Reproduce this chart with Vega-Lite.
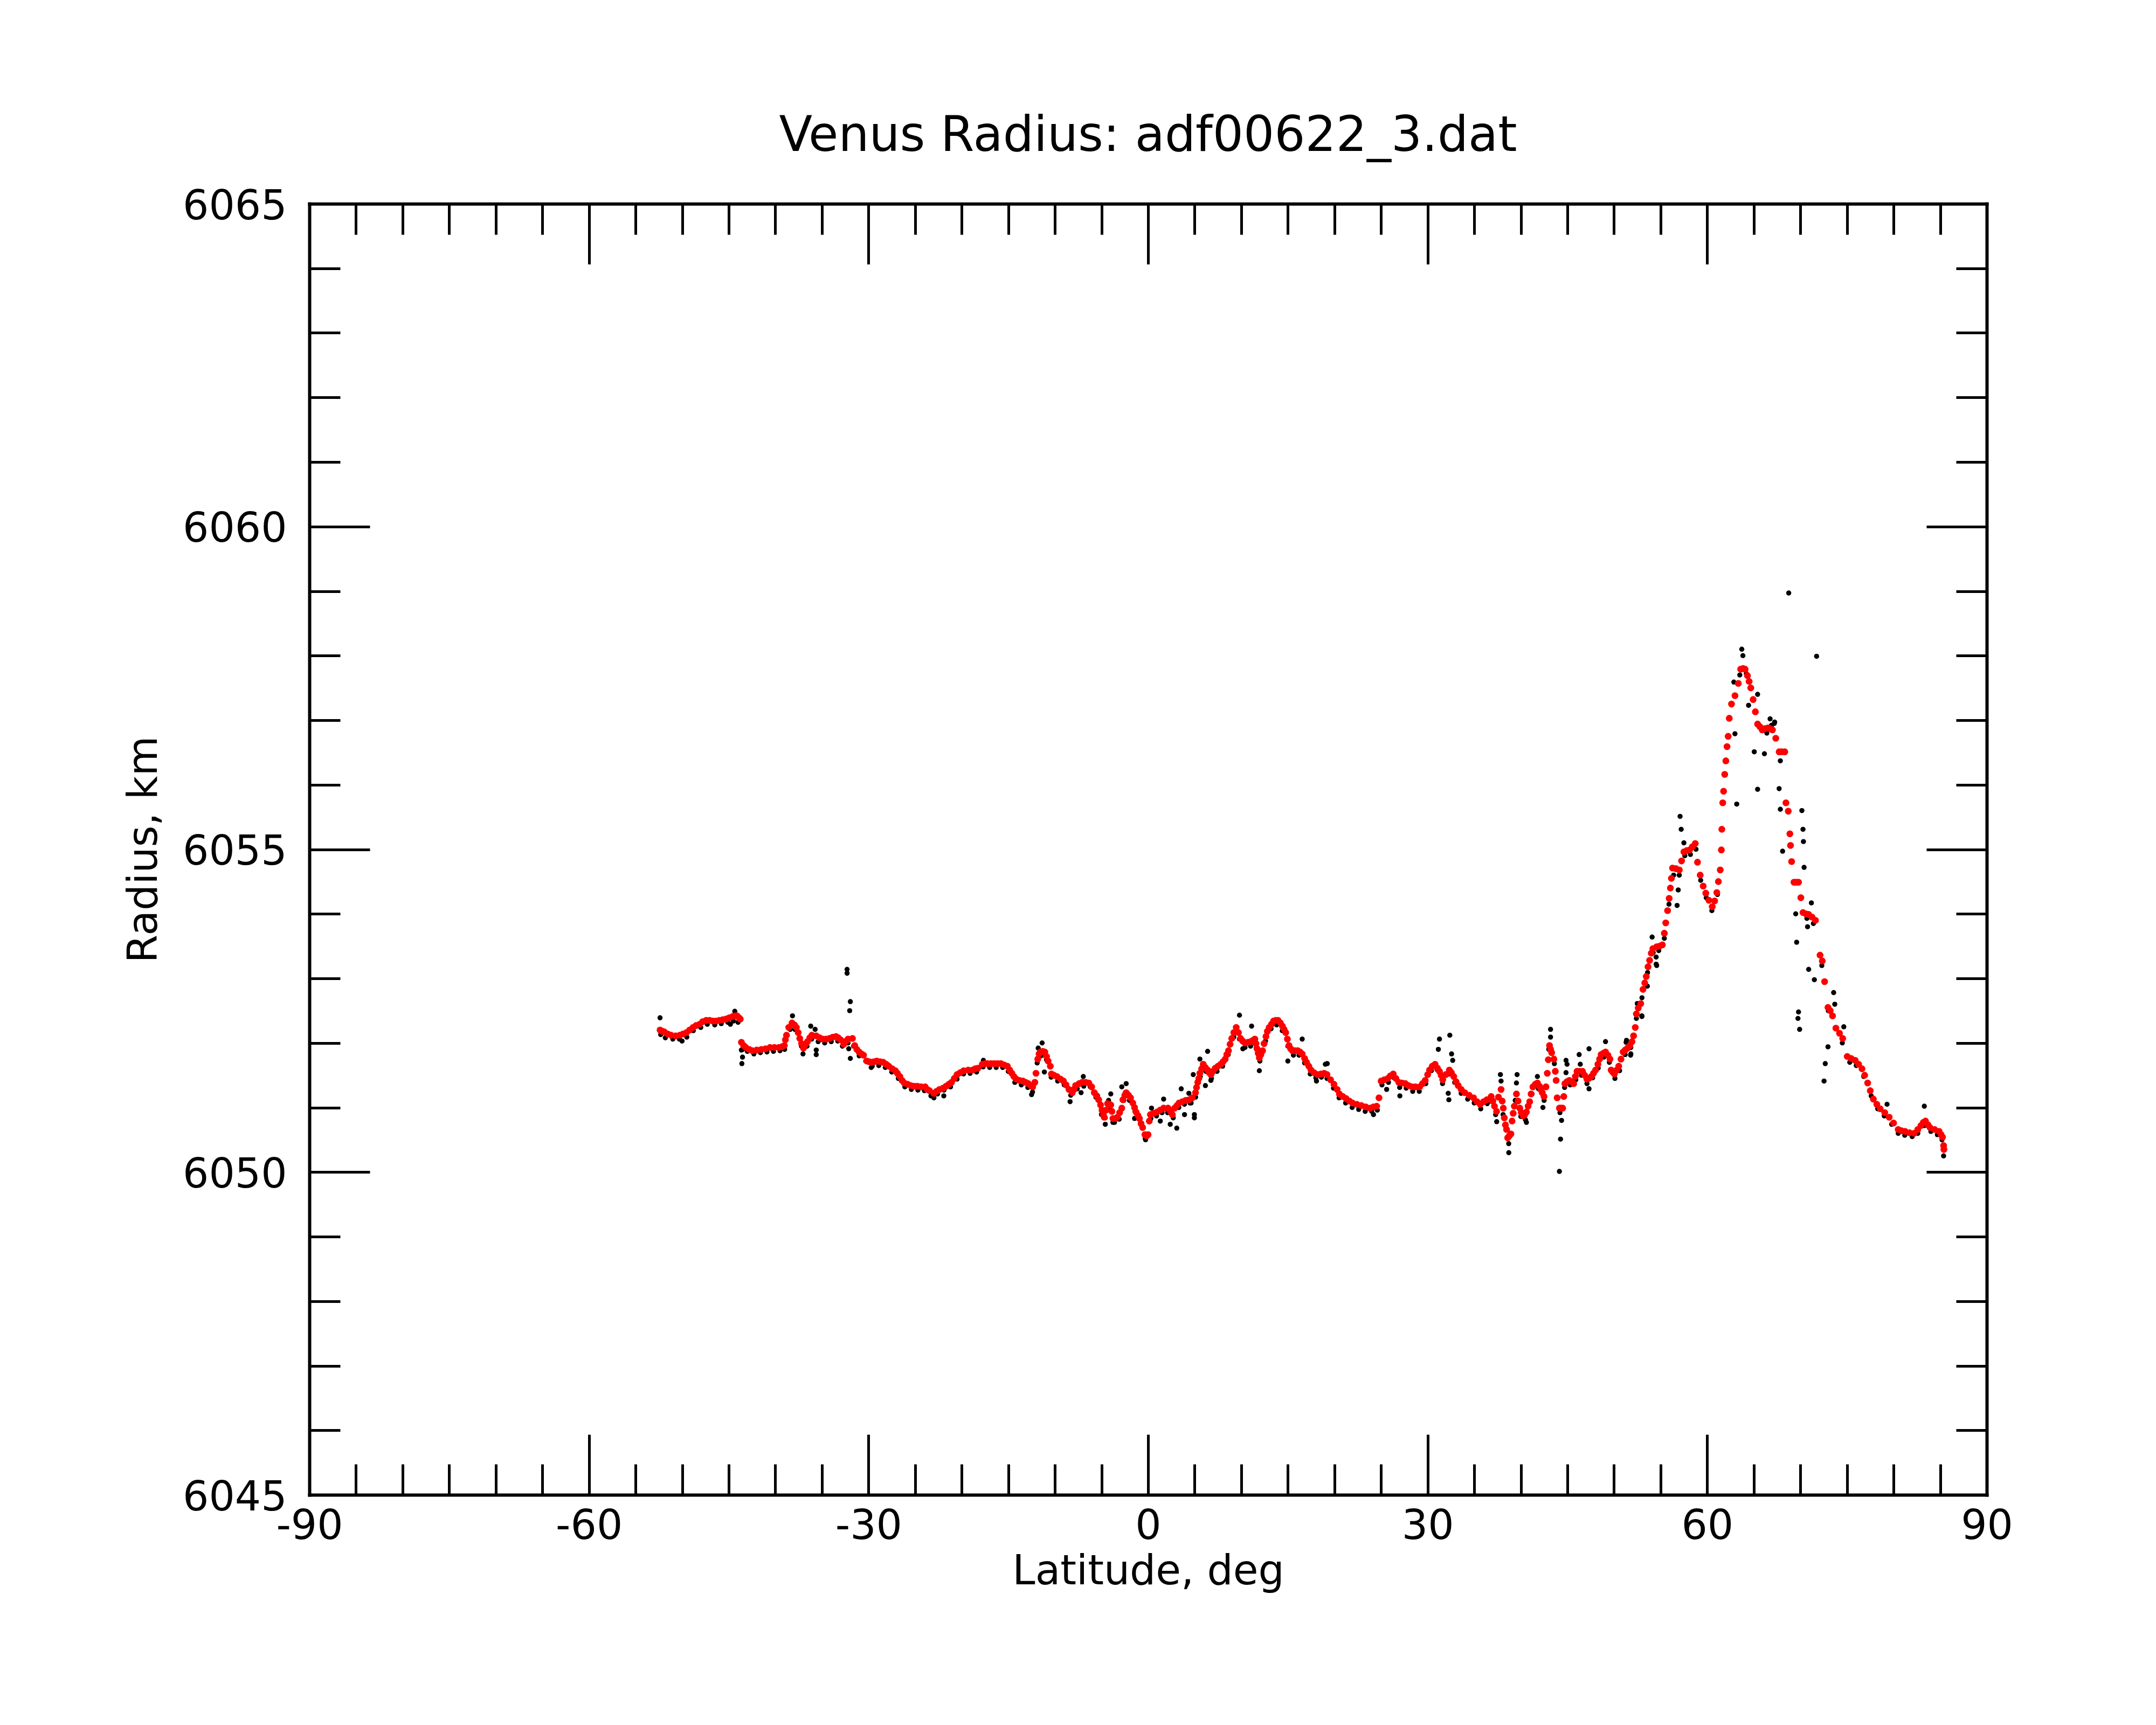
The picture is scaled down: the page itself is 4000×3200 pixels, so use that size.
{
"$schema":"https://vega.github.io/schema/vega-lite/v6.json",
"width":3112,"height":2395,
"autosize":{"type":"none"},
"padding":{"left":574,"top":378,"right":314,"bottom":427},
"background":"white",
"config":{"view":{"stroke":null},"font":"DejaVu Sans",
"axis":{"labelFont":"DejaVu Sans","titleFont":"DejaVu Sans","labelColor":"black","titleColor":"black","tickColor":"black","domainColor":"black","titleFontWeight":"normal","grid":false,"domainCap":"square","tickCap":"butt","labelLimit":1000}},
"title":{"text":"Venus Radius: adf00622_3.dat","fontSize":90,"font":"DejaVu Sans","fontWeight":"normal","color":"black","anchor":"middle","frame":"group","baseline":"alphabetic","offset":-25},
"datasets":{
"raw":[
{"lat":-52.3,"r":6052.13},{"lat":-51.8,"r":6052.08},{"lat":-51.0,"r":6052.06},{"lat":-50.3,"r":6052.06},{"lat":-49.5,"r":6052.09},{"lat":-48.8,"r":6052.19},{"lat":-48.0,"r":6052.24},{"lat":-47.3,"r":6052.29},{"lat":-46.5,"r":6052.28},{"lat":-45.8,"r":6052.3},{"lat":-45.1,"r":6052.32},{"lat":-44.5,"r":6052.34},{"lat":-44.0,"r":6052.32},
{"lat":-43.5,"r":6051.9},{"lat":-43.0,"r":6051.87},{"lat":-42.3,"r":6051.83},{"lat":-41.6,"r":6051.85},{"lat":-40.9,"r":6051.86},{"lat":-40.2,"r":6051.87},{"lat":-39.5,"r":6051.88},{"lat":-39.0,"r":6051.9},{"lat":-38.4,"r":6052.21},{"lat":-37.9,"r":6052.21},{"lat":-37.2,"r":6051.95},{"lat":-36.6,"r":6051.95},{"lat":-36.1,"r":6052.06},{"lat":-35.4,"r":6052.02},{"lat":-34.7,"r":6052.0},{"lat":-34.0,"r":6052.02},{"lat":-33.3,"r":6052.03},{"lat":-32.8,"r":6051.95},{"lat":-32.2,"r":6052.0},{"lat":-31.6,"r":6051.95},{"lat":-31.0,"r":6051.8},{"lat":-30.3,"r":6051.72},{"lat":-29.6,"r":6051.64},{"lat":-28.9,"r":6051.65},{"lat":-28.2,"r":6051.62},{"lat":-27.5,"r":6051.55},{"lat":-26.8,"r":6051.45},{"lat":-26.1,"r":6051.32},{"lat":-25.4,"r":6051.28},{"lat":-24.7,"r":6051.27},{"lat":-24.0,"r":6051.26},{"lat":-23.3,"r":6051.18},{"lat":-22.6,"r":6051.21},{"lat":-21.9,"r":6051.27},{"lat":-21.2,"r":6051.32},{"lat":-20.5,"r":6051.44},{"lat":-19.8,"r":6051.52},{"lat":-19.1,"r":6051.53},{"lat":-18.4,"r":6051.55},{"lat":-17.7,"r":6051.63},{"lat":-17.0,"r":6051.62},{"lat":-16.3,"r":6051.62},{"lat":-15.6,"r":6051.62},{"lat":-15.0,"r":6051.56},{"lat":-14.3,"r":6051.39},{"lat":-13.6,"r":6051.35},{"lat":-12.9,"r":6051.31},{"lat":-12.4,"r":6051.24},{"lat":-11.9,"r":6051.69},{"lat":-11.5,"r":6051.8},{"lat":-10.9,"r":6051.74},{"lat":-10.4,"r":6051.47},{"lat":-9.7,"r":6051.41},{"lat":-9.0,"r":6051.35},{"lat":-8.3,"r":6051.19},{"lat":-7.6,"r":6051.29},{"lat":-6.9,"r":6051.33},{"lat":-6.2,"r":6051.32},{"lat":-5.6,"r":6051.16},{"lat":-5.0,"r":6050.89},{"lat":-4.6,"r":6050.84},{"lat":-4.1,"r":6050.97},{"lat":-3.6,"r":6050.77},{"lat":-3.1,"r":6050.82},{"lat":-2.6,"r":6051.11},{"lat":-2.0,"r":6051.11},{"lat":-1.4,"r":6050.94},{"lat":-0.8,"r":6050.76},{"lat":-0.3,"r":6050.52},{"lat":0.3,"r":6050.83},{"lat":0.9,"r":6050.87},{"lat":1.5,"r":6050.92},{"lat":2.1,"r":6050.92},{"lat":2.7,"r":6050.84},{"lat":3.3,"r":6051.0},{"lat":3.9,"r":6051.05},{"lat":4.5,"r":6051.07},{"lat":5.1,"r":6051.16},{"lat":5.6,"r":6051.48},{"lat":6.2,"r":6051.56},{"lat":6.8,"r":6051.45},{"lat":7.4,"r":6051.56},{"lat":8.0,"r":6051.64},{"lat":8.6,"r":6051.82},{"lat":9.2,"r":6052.09},{"lat":9.8,"r":6052.06},{"lat":10.4,"r":6051.93},{"lat":11.0,"r":6051.95},{"lat":11.6,"r":6051.92},{"lat":12.0,"r":6051.72},{"lat":12.6,"r":6052.03},{"lat":13.2,"r":6052.22},{"lat":13.8,"r":6052.28},{"lat":14.4,"r":6052.19},{"lat":15.0,"r":6051.95},{"lat":15.6,"r":6051.81},{"lat":16.2,"r":6051.81},{"lat":16.8,"r":6051.69},{"lat":17.4,"r":6051.52},{"lat":18.0,"r":6051.46},{"lat":18.6,"r":6051.47},{"lat":19.2,"r":6051.45},{"lat":19.9,"r":6051.3},{"lat":20.5,"r":6051.15},{"lat":21.2,"r":6051.07},{"lat":21.9,"r":6051.0},{"lat":22.6,"r":6050.97},{"lat":23.3,"r":6050.94},{"lat":24.0,"r":6050.94},{"lat":24.6,"r":6050.96},{"lat":25.1,"r":6051.35},{"lat":25.8,"r":6051.39},{"lat":26.4,"r":6051.46},{"lat":27.0,"r":6051.31},{"lat":27.7,"r":6051.3},{"lat":28.4,"r":6051.25},{"lat":29.1,"r":6051.25},{"lat":29.8,"r":6051.37},{"lat":30.4,"r":6051.57},{"lat":31.0,"r":6051.59},{"lat":31.6,"r":6051.37},{"lat":32.3,"r":6051.52},{"lat":32.9,"r":6051.39},{"lat":33.6,"r":6051.22},{"lat":34.3,"r":6051.13},{"lat":35.0,"r":6051.07},{"lat":35.7,"r":6050.98},{"lat":36.4,"r":6051.06},{"lat":36.9,"r":6051.09},{"lat":37.3,"r":6050.89},{"lat":38.1,"r":6050.89},{"lat":38.7,"r":6050.44},{"lat":39.4,"r":6051.11},{"lat":40.0,"r":6050.86},{"lat":40.5,"r":6050.81},{"lat":41.2,"r":6051.21},{"lat":41.9,"r":6051.29},{"lat":42.5,"r":6051.11},{"lat":43.0,"r":6051.9},{"lat":43.6,"r":6051.68},{"lat":44.2,"r":6050.92},{"lat":44.7,"r":6051.31},{"lat":45.3,"r":6051.35},{"lat":45.9,"r":6051.43},{"lat":46.5,"r":6051.5},{"lat":47.1,"r":6051.37},{"lat":47.7,"r":6051.46},{"lat":48.3,"r":6051.61},{"lat":48.9,"r":6051.78},{"lat":49.5,"r":6051.7},{"lat":50.1,"r":6051.45},{"lat":50.6,"r":6051.57},{"lat":51.2,"r":6051.82},{"lat":51.8,"r":6051.93},{"lat":52.4,"r":6052.38},{"lat":53.0,"r":6052.7},{"lat":53.6,"r":6053.09},{"lat":54.2,"r":6053.4},{"lat":54.8,"r":6053.43},{"lat":55.4,"r":6053.62},{"lat":55.9,"r":6054.15},{"lat":56.4,"r":6054.6},{"lat":57.0,"r":6054.6},{"lat":57.6,"r":6054.9},{"lat":58.2,"r":6054.92},{"lat":58.8,"r":6055.0},{"lat":59.3,"r":6054.52},{"lat":59.9,"r":6054.25},{"lat":60.5,"r":6054.05},{"lat":61.1,"r":6054.3},{"lat":63.5,"r":6057.7},{"lat":64.2,"r":6057.72},{"lat":66.4,"r":6056.8},{"lat":66.9,"r":6056.92},{"lat":67.2,"r":6056.95},{"lat":70.7,"r":6053.93},{"lat":71.4,"r":6053.85},{"lat":72.3,"r":6053.2},{"lat":73.0,"r":6052.5},{"lat":74.5,"r":6052.0},{"lat":75.3,"r":6051.7},{"lat":76.0,"r":6051.65},{"lat":76.8,"r":6051.48},{"lat":77.6,"r":6051.18},{"lat":78.3,"r":6050.98},{"lat":79.0,"r":6050.87},{"lat":79.8,"r":6050.74},{"lat":80.5,"r":6050.6},{"lat":81.2,"r":6050.57},{"lat":82.0,"r":6050.55},{"lat":82.6,"r":6050.6},{"lat":83.3,"r":6050.72},{"lat":84.0,"r":6050.63},{"lat":84.7,"r":6050.58},{"lat":85.2,"r":6050.5},{"lat":85.37,"r":6050.25},
{"lat":-52.37,"r":6052.39},{"lat":-50.01,"r":6052.03},{"lat":-43.64,"r":6051.89},{"lat":-43.52,"r":6051.78},{"lat":-43.59,"r":6051.68},{"lat":-44.35,"r":6052.49},{"lat":-44.82,"r":6052.29},{"lat":-38.16,"r":6052.42},{"lat":-37.03,"r":6051.83},{"lat":-36.2,"r":6052.26},{"lat":-35.73,"r":6052.21},{"lat":-35.61,"r":6051.89},{"lat":-35.61,"r":6051.82},{"lat":-32.3,"r":6053.14},{"lat":-32.3,"r":6053.08},{"lat":-31.95,"r":6052.64},{"lat":-32.02,"r":6052.5},{"lat":-32.12,"r":6051.91},{"lat":-31.95,"r":6051.76},{"lat":-21.92,"r":6051.18},{"lat":-22.98,"r":6051.15},{"lat":-29.71,"r":6051.62},{"lat":-17.67,"r":6051.73},
{"lat":-11.37,"r":6052.0},{"lat":-11.79,"r":6051.92},{"lat":-11.13,"r":6051.55},{"lat":-12.5,"r":6051.2},{"lat":-6.95,"r":6051.48},{"lat":-8.37,"r":6051.09},{"lat":-7.19,"r":6051.23},{"lat":-4.0,"r":6051.21},{"lat":-4.24,"r":6051.11},{"lat":-4.59,"r":6050.74},{"lat":-3.77,"r":6050.77},{"lat":-2.35,"r":6051.37},{"lat":-2.82,"r":6051.32},{"lat":-1.45,"r":6050.83},{"lat":-0.27,"r":6050.5},{"lat":0.37,"r":6050.99},{"lat":1.67,"r":6051.13},{"lat":1.31,"r":6050.79},{"lat":2.38,"r":6050.74},{"lat":3.08,"r":6050.68},{"lat":3.91,"r":6050.89},{"lat":4.97,"r":6050.84},{"lat":4.97,"r":6050.89},{"lat":3.56,"r":6051.29},{"lat":4.38,"r":6051.22},{"lat":4.62,"r":6051.07},{"lat":4.85,"r":6051.51},{"lat":6.15,"r":6051.34},{"lat":6.39,"r":6051.87},{"lat":5.56,"r":6051.75},{"lat":6.74,"r":6051.42},{"lat":9.81,"r":6052.43},{"lat":10.17,"r":6051.91},{"lat":11.11,"r":6052.26},{"lat":11.94,"r":6051.57},{"lat":15.0,"r":6051.72},{"lat":16.54,"r":6052.06},{"lat":18.07,"r":6051.41},{"lat":19.02,"r":6051.67},
{"lat":19.23,"r":6051.68},{"lat":24.19,"r":6050.89},{"lat":31.27,"r":6052.06},{"lat":32.38,"r":6052.12},{"lat":31.15,"r":6051.9},{"lat":32.57,"r":6051.83},{"lat":32.69,"r":6051.73},{"lat":32.21,"r":6051.22},{"lat":32.28,"r":6051.12},{"lat":27.02,"r":6051.18},{"lat":25.6,"r":6051.28},{"lat":37.81,"r":6051.51},{"lat":37.88,"r":6051.41},{"lat":37.41,"r":6050.78},{"lat":38.71,"r":6050.3},{"lat":39.6,"r":6051.51},{"lat":39.53,"r":6051.38},{"lat":40.6,"r":6050.77},{"lat":41.78,"r":6051.48},{"lat":42.37,"r":6051.0},{"lat":43.19,"r":6052.21},{"lat":43.19,"r":6052.09},{"lat":44.37,"r":6050.8},{"lat":44.26,"r":6050.51},{"lat":44.14,"r":6050.01},{"lat":44.85,"r":6051.73},{"lat":44.96,"r":6051.67},{"lat":44.85,"r":6051.54},{"lat":46.26,"r":6051.82},{"lat":46.38,"r":6051.67},{"lat":47.32,"r":6051.91},{"lat":47.32,"r":6051.29},{"lat":49.09,"r":6052.02},{"lat":51.34,"r":6052.04},{"lat":51.81,"r":6051.83},{"lat":52.52,"r":6052.61},{"lat":52.99,"r":6052.41},{"lat":53.58,"r":6052.88},{"lat":54.52,"r":6053.22},{"lat":54.52,"r":6053.33},
{"lat":68.75,"r":6058.97},{"lat":71.74,"r":6057.99},{"lat":63.71,"r":6058.1},{"lat":63.83,"r":6058.0},{"lat":62.86,"r":6057.59},{"lat":64.44,"r":6057.23},{"lat":65.41,"r":6057.4},{"lat":62.98,"r":6056.79},{"lat":65.05,"r":6056.51},{"lat":66.14,"r":6056.48},{"lat":65.41,"r":6055.93},{"lat":63.17,"r":6055.7},{"lat":67.72,"r":6055.94},{"lat":67.85,"r":6055.62},{"lat":70.16,"r":6055.6},{"lat":70.28,"r":6055.31},{"lat":70.33,"r":6055.12},{"lat":70.4,"r":6054.72},{"lat":68.09,"r":6054.97},{"lat":69.5,"r":6054.0},{"lat":69.6,"r":6053.56},{"lat":70.89,"r":6053.14},{"lat":71.5,"r":6052.98},{"lat":69.8,"r":6052.48},{"lat":69.74,"r":6052.38},{"lat":69.92,"r":6052.21},{"lat":72.96,"r":6051.94},{"lat":72.67,"r":6051.68},{"lat":72.54,"r":6051.41},{"lat":57.09,"r":6055.51},{"lat":57.21,"r":6055.31},{"lat":57.5,"r":6055.1},{"lat":56.77,"r":6054.13},{"lat":56.89,"r":6054.37},{"lat":54.58,"r":6053.2},{"lat":54.09,"r":6053.64},{"lat":52.99,"r":6052.42},{"lat":52.5,"r":6052.61},{"lat":51.3,"r":6052.01},{"lat":51.78,"r":6051.81},{"lat":83.3,"r":6051.02},{"lat":79.3,"r":6051.05},{"lat":73.57,"r":6052.78},{"lat":73.69,"r":6052.6},{"lat":74.66,"r":6052.25},{"lat":71.18,"r":6054.17},{"lat":70.77,"r":6053.8},{"lat":67.85,"r":6056.37},{"lat":66.75,"r":6057.02},{"lat":67.24,"r":6056.97}
],
"fit":[
{"lat":-52.37,"r":6052.2},{"lat":-52.1,"r":6052.18},{"lat":-51.9,"r":6052.17},{"lat":-51.55,"r":6052.14},{"lat":-51.19,"r":6052.12},{"lat":-50.7,"r":6052.11},{"lat":-50.25,"r":6052.12},{"lat":-49.9,"r":6052.14},{"lat":-49.54,"r":6052.16},{"lat":-49.2,"r":6052.2},{"lat":-48.83,"r":6052.24},{"lat":-48.5,"r":6052.27},{"lat":-48.12,"r":6052.29},{"lat":-47.8,"r":6052.33},{"lat":-47.42,"r":6052.35},{"lat":-47.05,"r":6052.35},{"lat":-46.71,"r":6052.34},{"lat":-46.35,"r":6052.34},{"lat":-46.0,"r":6052.35},{"lat":-45.65,"r":6052.36},{"lat":-45.29,"r":6052.37},{"lat":-44.95,"r":6052.39},{"lat":-44.58,"r":6052.41},{"lat":-44.3,"r":6052.42},{"lat":-44.11,"r":6052.42},{"lat":-43.9,"r":6052.39},{"lat":-43.76,"r":6052.37},
{"lat":-43.64,"r":6052.01},{"lat":-43.4,"r":6051.96},{"lat":-43.17,"r":6051.93},{"lat":-42.8,"r":6051.9},{"lat":-42.46,"r":6051.88},{"lat":-42.0,"r":6051.89},{"lat":-41.51,"r":6051.9},{"lat":-41.05,"r":6051.91},{"lat":-40.57,"r":6051.93},{"lat":-40.1,"r":6051.93},{"lat":-39.63,"r":6051.93},{"lat":-39.3,"r":6051.94},{"lat":-39.03,"r":6051.96},{"lat":-38.92,"r":6052.05},{"lat":-38.8,"r":6052.12},{"lat":-38.56,"r":6052.24},{"lat":-38.21,"r":6052.31},{"lat":-37.95,"r":6052.28},{"lat":-37.74,"r":6052.24},{"lat":-37.55,"r":6052.16},{"lat":-37.38,"r":6052.07},{"lat":-37.18,"r":6051.99},{"lat":-36.98,"r":6051.92},{"lat":-36.75,"r":6051.98},{"lat":-36.56,"r":6052.02},{"lat":-36.3,"r":6052.08},{"lat":-36.08,"r":6052.12},{"lat":-35.61,"r":6052.11},{"lat":-35.25,"r":6052.08},{"lat":-34.9,"r":6052.06},{"lat":-34.55,"r":6052.06},{"lat":-34.19,"r":6052.07},{"lat":-33.85,"r":6052.09},{"lat":-33.49,"r":6052.1},{"lat":-33.25,"r":6052.08},{"lat":-33.01,"r":6052.05},{"lat":-32.66,"r":6051.98},{"lat":-32.4,"r":6052.03},{"lat":-32.19,"r":6052.06},{"lat":-31.72,"r":6052.07},{"lat":-31.48,"r":6051.96},{"lat":-31.25,"r":6051.9},{"lat":-31.01,"r":6051.86},{"lat":-30.75,"r":6051.83},{"lat":-30.53,"r":6051.81},{"lat":-30.18,"r":6051.72},{"lat":-29.95,"r":6051.71},{"lat":-29.71,"r":6051.7},{"lat":-29.4,"r":6051.71},{"lat":-29.12,"r":6051.72},{"lat":-28.75,"r":6051.71},{"lat":-28.41,"r":6051.7},{"lat":-28.1,"r":6051.67},{"lat":-27.82,"r":6051.64},{"lat":-27.45,"r":6051.6},{"lat":-27.12,"r":6051.57},{"lat":-26.9,"r":6051.53},{"lat":-26.64,"r":6051.48},{"lat":-26.4,"r":6051.42},{"lat":-26.17,"r":6051.38},{"lat":-25.8,"r":6051.36},{"lat":-25.46,"r":6051.34},{"lat":-25.1,"r":6051.33},{"lat":-24.75,"r":6051.33},{"lat":-24.35,"r":6051.32},{"lat":-23.92,"r":6051.32},{"lat":-23.7,"r":6051.28},{"lat":-23.45,"r":6051.26},{"lat":-22.98,"r":6051.22},{"lat":-22.7,"r":6051.25},{"lat":-22.39,"r":6051.28},{"lat":-22.0,"r":6051.3},{"lat":-21.68,"r":6051.33},{"lat":-21.38,"r":6051.36},{"lat":-21.09,"r":6051.39},{"lat":-20.8,"r":6051.45},{"lat":-20.5,"r":6051.51},{"lat":-20.15,"r":6051.54},{"lat":-19.79,"r":6051.57},{"lat":-19.3,"r":6051.58},{"lat":-18.85,"r":6051.58},{"lat":-18.55,"r":6051.6},{"lat":-18.26,"r":6051.61},{"lat":-17.79,"r":6051.67},{"lat":-17.5,"r":6051.68},{"lat":-17.22,"r":6051.68},{"lat":-16.85,"r":6051.68},{"lat":-16.51,"r":6051.68},{"lat":-16.15,"r":6051.68},{"lat":-15.8,"r":6051.68},{"lat":-15.45,"r":6051.66},{"lat":-15.1,"r":6051.64},{"lat":-14.85,"r":6051.58},{"lat":-14.62,"r":6051.53},{"lat":-14.4,"r":6051.48},{"lat":-14.15,"r":6051.44},{"lat":-13.8,"r":6051.42},{"lat":-13.44,"r":6051.41},{"lat":-13.15,"r":6051.39},{"lat":-12.85,"r":6051.37},{"lat":-12.6,"r":6051.34},{"lat":-12.38,"r":6051.32},{"lat":-12.15,"r":6051.39},{"lat":-12.03,"r":6051.53},{"lat":-11.84,"r":6051.75},{"lat":-11.7,"r":6051.83},{"lat":-11.56,"r":6051.86},{"lat":-11.3,"r":6051.87},{"lat":-11.08,"r":6051.86},{"lat":-10.9,"r":6051.79},{"lat":-10.73,"r":6051.72},{"lat":-10.49,"r":6051.64},{"lat":-10.37,"r":6051.52},{"lat":-10.1,"r":6051.5},{"lat":-9.78,"r":6051.48},{"lat":-9.4,"r":6051.44},{"lat":-9.08,"r":6051.41},{"lat":-8.8,"r":6051.35},{"lat":-8.49,"r":6051.28},{"lat":-8.13,"r":6051.23},{"lat":-7.95,"r":6051.28},{"lat":-7.78,"r":6051.34},{"lat":-7.4,"r":6051.37},{"lat":-7.07,"r":6051.39},{"lat":-6.7,"r":6051.39},{"lat":-6.36,"r":6051.38},{"lat":-6.05,"r":6051.32},{"lat":-5.77,"r":6051.23},{"lat":-5.5,"r":6051.18},{"lat":-5.3,"r":6051.12},{"lat":-5.1,"r":6051.04},{"lat":-4.94,"r":6050.96},{"lat":-4.8,"r":6050.89},{"lat":-4.71,"r":6050.85},{"lat":-4.5,"r":6050.96},{"lat":-4.35,"r":6051.06},{"lat":-4.15,"r":6051.05},{"lat":-4.0,"r":6051.04},{"lat":-3.88,"r":6050.94},{"lat":-3.77,"r":6050.83},{"lat":-3.5,"r":6050.83},{"lat":-3.29,"r":6050.85},{"lat":-3.05,"r":6050.92},{"lat":-2.82,"r":6050.99},{"lat":-2.7,"r":6051.12},{"lat":-2.5,"r":6051.19},{"lat":-2.35,"r":6051.23},{"lat":-2.1,"r":6051.19},{"lat":-1.88,"r":6051.15},{"lat":-1.64,"r":6051.07},{"lat":-1.45,"r":6051.0},{"lat":-1.29,"r":6050.93},{"lat":-1.1,"r":6050.88},{"lat":-0.93,"r":6050.83},{"lat":-0.75,"r":6050.75},{"lat":-0.58,"r":6050.69},{"lat":-0.34,"r":6050.58},{"lat":-0.15,"r":6050.56},{"lat":0.0,"r":6050.58},{"lat":0.13,"r":6050.79},{"lat":0.25,"r":6050.89},{"lat":0.6,"r":6050.91},{"lat":0.96,"r":6050.93},{"lat":1.3,"r":6050.96},{"lat":1.67,"r":6050.99},{"lat":2.14,"r":6050.99},{"lat":2.4,"r":6050.94},{"lat":2.61,"r":6050.89},{"lat":2.85,"r":6050.99},{"lat":3.1,"r":6051.03},{"lat":3.32,"r":6051.07},{"lat":3.68,"r":6051.09},{"lat":4.03,"r":6051.11},{"lat":4.4,"r":6051.12},{"lat":4.74,"r":6051.15},{"lat":5.09,"r":6051.23},{"lat":5.2,"r":6051.31},{"lat":5.33,"r":6051.39},{"lat":5.45,"r":6051.45},{"lat":5.56,"r":6051.53},{"lat":5.75,"r":6051.6},{"lat":5.92,"r":6051.67},{"lat":6.15,"r":6051.62},{"lat":6.39,"r":6051.58},{"lat":6.55,"r":6051.54},{"lat":6.74,"r":6051.51},{"lat":6.95,"r":6051.56},{"lat":7.21,"r":6051.61},{"lat":7.5,"r":6051.64},{"lat":7.8,"r":6051.67},{"lat":8.05,"r":6051.71},{"lat":8.28,"r":6051.75},{"lat":8.45,"r":6051.82},{"lat":8.63,"r":6051.88},{"lat":8.8,"r":6051.98},{"lat":8.98,"r":6052.07},{"lat":9.2,"r":6052.16},{"lat":9.46,"r":6052.24},{"lat":9.7,"r":6052.16},{"lat":9.93,"r":6052.07},{"lat":10.15,"r":6052.03},{"lat":10.4,"r":6052.0},{"lat":10.7,"r":6052.01},{"lat":10.99,"r":6052.02},{"lat":11.25,"r":6052.04},{"lat":11.46,"r":6052.06},{"lat":11.58,"r":6051.99},{"lat":11.7,"r":6051.91},{"lat":11.82,"r":6051.84},{"lat":11.94,"r":6051.77},{"lat":12.1,"r":6051.82},{"lat":12.29,"r":6051.88},{"lat":12.45,"r":6051.99},{"lat":12.65,"r":6052.1},{"lat":12.8,"r":6052.18},{"lat":13.0,"r":6052.24},{"lat":13.25,"r":6052.29},{"lat":13.47,"r":6052.34},{"lat":13.7,"r":6052.35},{"lat":13.94,"r":6052.35},{"lat":14.2,"r":6052.31},{"lat":14.42,"r":6052.26},{"lat":14.6,"r":6052.21},{"lat":14.77,"r":6052.16},{"lat":14.95,"r":6052.06},{"lat":15.12,"r":6051.96},{"lat":15.3,"r":6051.91},{"lat":15.48,"r":6051.88},{"lat":15.75,"r":6051.88},{"lat":16.07,"r":6051.88},{"lat":16.3,"r":6051.86},{"lat":16.54,"r":6051.83},{"lat":16.8,"r":6051.76},{"lat":17.01,"r":6051.7},{"lat":17.25,"r":6051.64},{"lat":17.48,"r":6051.58},{"lat":17.8,"r":6051.54},{"lat":18.19,"r":6051.51},{"lat":18.55,"r":6051.52},{"lat":18.9,"r":6051.53},{"lat":19.2,"r":6051.51},{"lat":19.58,"r":6051.43},{"lat":19.95,"r":6051.36},{"lat":20.29,"r":6051.28},{"lat":20.53,"r":6051.21},{"lat":20.9,"r":6051.17},{"lat":21.24,"r":6051.14},{"lat":21.6,"r":6051.1},{"lat":21.94,"r":6051.07},{"lat":22.4,"r":6051.05},{"lat":22.89,"r":6051.03},{"lat":23.35,"r":6051.01},{"lat":23.83,"r":6050.99},{"lat":24.2,"r":6051.01},{"lat":24.54,"r":6051.02},{"lat":24.78,"r":6051.15},{"lat":25.01,"r":6051.41},{"lat":25.35,"r":6051.43},{"lat":25.72,"r":6051.45},{"lat":26.0,"r":6051.49},{"lat":26.31,"r":6051.52},{"lat":26.6,"r":6051.45},{"lat":26.9,"r":6051.39},{"lat":27.25,"r":6051.38},{"lat":27.61,"r":6051.37},{"lat":27.95,"r":6051.34},{"lat":28.32,"r":6051.32},{"lat":28.7,"r":6051.32},{"lat":29.14,"r":6051.32},{"lat":29.45,"r":6051.37},{"lat":29.74,"r":6051.42},{"lat":30.0,"r":6051.51},{"lat":30.21,"r":6051.58},{"lat":30.5,"r":6051.64},{"lat":30.8,"r":6051.67},{"lat":31.05,"r":6051.61},{"lat":31.27,"r":6051.56},{"lat":31.45,"r":6051.5},{"lat":31.62,"r":6051.43},{"lat":31.95,"r":6051.51},{"lat":32.33,"r":6051.58},{"lat":32.55,"r":6051.54},{"lat":32.8,"r":6051.48},{"lat":33.05,"r":6051.4},{"lat":33.28,"r":6051.34},{"lat":33.6,"r":6051.28},{"lat":33.98,"r":6051.23},{"lat":34.45,"r":6051.19},{"lat":34.93,"r":6051.15},{"lat":35.3,"r":6051.09},{"lat":35.64,"r":6051.05},{"lat":36.0,"r":6051.09},{"lat":36.35,"r":6051.12},{"lat":36.82,"r":6051.17},{"lat":37.0,"r":6051.1},{"lat":37.17,"r":6051.02},{"lat":37.4,"r":6050.94},{"lat":37.6,"r":6051.16},{"lat":37.88,"r":6051.28},{"lat":38.0,"r":6051.1},{"lat":38.12,"r":6050.99},{"lat":38.23,"r":6050.84},{"lat":38.35,"r":6050.73},{"lat":38.47,"r":6050.66},{"lat":38.59,"r":6050.53},{"lat":38.75,"r":6050.56},{"lat":38.94,"r":6050.59},{"lat":39.06,"r":6050.79},{"lat":39.18,"r":6050.91},{"lat":39.3,"r":6051.02},{"lat":39.53,"r":6051.21},{"lat":39.7,"r":6051.1},{"lat":39.89,"r":6050.99},{"lat":40.05,"r":6050.92},{"lat":40.24,"r":6050.87},{"lat":40.42,"r":6050.89},{"lat":40.6,"r":6050.93},{"lat":40.78,"r":6051.02},{"lat":40.95,"r":6051.09},{"lat":41.1,"r":6051.21},{"lat":41.3,"r":6051.32},{"lat":41.55,"r":6051.36},{"lat":41.78,"r":6051.38},{"lat":42.0,"r":6051.33},{"lat":42.13,"r":6051.28},{"lat":42.3,"r":6051.23},{"lat":42.49,"r":6051.17},{"lat":42.7,"r":6051.32},{"lat":42.84,"r":6051.53},{"lat":42.95,"r":6051.74},{"lat":43.08,"r":6051.96},{"lat":43.2,"r":6051.9},{"lat":43.31,"r":6051.85},{"lat":43.55,"r":6051.75},{"lat":43.7,"r":6051.56},{"lat":43.79,"r":6051.42},{"lat":43.9,"r":6051.15},{"lat":44.14,"r":6050.99},{"lat":44.3,"r":6050.99},{"lat":44.49,"r":6050.99},{"lat":44.61,"r":6051.17},{"lat":44.73,"r":6051.37},{"lat":44.95,"r":6051.4},{"lat":45.2,"r":6051.42},{"lat":45.45,"r":6051.4},{"lat":45.67,"r":6051.37},{"lat":45.85,"r":6051.48},{"lat":46.03,"r":6051.56},{"lat":46.3,"r":6051.56},{"lat":46.62,"r":6051.56},{"lat":46.85,"r":6051.5},{"lat":47.09,"r":6051.44},{"lat":47.3,"r":6051.45},{"lat":47.56,"r":6051.48},{"lat":47.8,"r":6051.53},{"lat":48.03,"r":6051.58},{"lat":48.27,"r":6051.67},{"lat":48.45,"r":6051.75},{"lat":48.62,"r":6051.82},{"lat":48.85,"r":6051.84},{"lat":49.09,"r":6051.86},{"lat":49.35,"r":6051.81},{"lat":49.57,"r":6051.75},{"lat":49.69,"r":6051.58},{"lat":49.85,"r":6051.55},{"lat":50.04,"r":6051.52},{"lat":50.3,"r":6051.58},{"lat":50.51,"r":6051.64},{"lat":50.75,"r":6051.75},{"lat":50.98,"r":6051.86},{"lat":51.2,"r":6051.89},{"lat":51.46,"r":6051.92},{"lat":51.7,"r":6051.96},{"lat":51.93,"r":6052.02},{"lat":52.1,"r":6052.11},{"lat":52.28,"r":6052.24},{"lat":52.4,"r":6052.45},{"lat":52.6,"r":6052.54},{"lat":52.87,"r":6052.61},{"lat":53.11,"r":6052.83},{"lat":53.3,"r":6052.93},{"lat":53.46,"r":6053.03},{"lat":53.65,"r":6053.18},{"lat":53.82,"r":6053.28},{"lat":54.0,"r":6053.39},{"lat":54.17,"r":6053.46},
{"lat":54.58,"r":6053.49},{"lat":54.9,"r":6053.5},{"lat":55.19,"r":6053.52},{"lat":55.4,"r":6053.7},{"lat":55.55,"r":6053.86},{"lat":55.75,"r":6054.05},{"lat":55.92,"r":6054.24},{"lat":56.05,"r":6054.4},{"lat":56.16,"r":6054.55},{"lat":56.28,"r":6054.71},{"lat":56.65,"r":6054.7},{"lat":57.01,"r":6054.68},{"lat":57.25,"r":6054.82},{"lat":57.5,"r":6054.96},{"lat":57.8,"r":6054.98},{"lat":58.11,"r":6054.99},{"lat":58.4,"r":6055.04},{"lat":58.72,"r":6055.09},{"lat":58.96,"r":6054.8},{"lat":59.25,"r":6054.6},{"lat":59.57,"r":6054.43},{"lat":59.85,"r":6054.32},{"lat":60.18,"r":6054.21},{"lat":60.54,"r":6054.11},{"lat":60.8,"r":6054.2},{"lat":61.03,"r":6054.33},{"lat":61.2,"r":6054.5},{"lat":61.4,"r":6054.68},{"lat":61.52,"r":6054.99},{"lat":61.57,"r":6055.31},{"lat":61.67,"r":6055.72},{"lat":61.76,"r":6055.9},{"lat":61.88,"r":6056.16},{"lat":62.0,"r":6056.37},{"lat":62.13,"r":6056.59},{"lat":62.25,"r":6056.75},{"lat":62.37,"r":6057.03},{"lat":62.61,"r":6057.25},{"lat":62.98,"r":6057.38},{"lat":63.34,"r":6057.57},{"lat":63.59,"r":6057.79},{"lat":63.85,"r":6057.8},{"lat":64.07,"r":6057.79},{"lat":64.32,"r":6057.69},{"lat":64.5,"r":6057.6},{"lat":64.68,"r":6057.5},{"lat":64.93,"r":6057.32},{"lat":65.17,"r":6057.13},{"lat":65.41,"r":6056.94},{"lat":65.65,"r":6056.9},{"lat":65.9,"r":6056.85},{"lat":66.2,"r":6056.87},{"lat":66.51,"r":6056.88},{"lat":66.75,"r":6056.87},{"lat":67.0,"r":6056.85},{"lat":67.36,"r":6056.72},{"lat":67.72,"r":6056.51},{"lat":68.0,"r":6056.51},{"lat":68.33,"r":6056.51},{"lat":68.45,"r":6055.72},{"lat":68.7,"r":6055.59},{"lat":68.87,"r":6055.24},{"lat":68.94,"r":6055.06},{"lat":69.06,"r":6054.81},{"lat":69.31,"r":6054.49},{"lat":69.55,"r":6054.49},{"lat":69.8,"r":6054.49},{"lat":70.05,"r":6054.25},{"lat":70.28,"r":6054.02},{"lat":70.6,"r":6054.0},{"lat":70.89,"r":6053.99},{"lat":71.25,"r":6053.95},{"lat":71.62,"r":6053.9},{"lat":72.11,"r":6053.36},{"lat":72.35,"r":6053.27},{"lat":72.6,"r":6052.95},{"lat":72.96,"r":6052.55},{"lat":73.2,"r":6052.5},{"lat":73.45,"r":6052.42},{"lat":73.81,"r":6052.23},{"lat":74.2,"r":6052.15},{"lat":74.54,"r":6052.07},{"lat":75.03,"r":6051.79},{"lat":75.45,"r":6051.76},{"lat":75.88,"r":6051.73},{"lat":76.25,"r":6051.67},{"lat":76.61,"r":6051.6},{"lat":76.9,"r":6051.5},{"lat":77.22,"r":6051.38},{"lat":77.5,"r":6051.26},{"lat":77.83,"r":6051.13},{"lat":78.2,"r":6051.05},{"lat":78.56,"r":6050.98},{"lat":79.05,"r":6050.92},{"lat":79.53,"r":6050.85},{"lat":80.0,"r":6050.76},{"lat":80.5,"r":6050.66},{"lat":80.85,"r":6050.64},{"lat":81.23,"r":6050.63},{"lat":81.7,"r":6050.61},{"lat":82.21,"r":6050.6},{"lat":82.6,"r":6050.66},{"lat":82.94,"r":6050.72},{"lat":83.2,"r":6050.77},{"lat":83.43,"r":6050.79},{"lat":83.7,"r":6050.73},{"lat":83.91,"r":6050.69},{"lat":84.4,"r":6050.66},{"lat":84.89,"r":6050.63},{"lat":85.1,"r":6050.58},{"lat":85.25,"r":6050.54},{"lat":85.37,"r":6050.41},{"lat":85.4,"r":6050.35}
]},
"layer":[
{"data":{"name":"raw"},
"mark":{"type":"point","filled":true,"shape":"circle","size":90,"color":"#000000","opacity":1,"strokeWidth":0},
"encoding":{
"x":{"field":"lat","type":"quantitative","scale":{"domain":[-90,90],"nice":false,"zero":false},
"axis":{"orient":"bottom","values":[-90,-60,-30,0,30,60,90],"labelExpr":"'' + datum.value","ticks":false,"domain":true,"domainWidth":6,"labels":true,"labelFontSize":76,"labelPadding":21,"labelFlush":false,"labelOverlap":false,"title":"Latitude, deg","titleFontSize":76,"titlePadding":9}},
"y":{"field":"r","type":"quantitative","scale":{"domain":[6045,6065],"nice":false,"zero":false},
"axis":{"orient":"left","values":[6045,6050,6055,6060,6065],"labelExpr":"'' + datum.value","ticks":false,"domain":true,"domainWidth":6,"labels":true,"labelFontSize":76,"labelPadding":42,"labelFlush":false,"labelOverlap":false,"labelOffset":5,"title":"Radius, km","titleFontSize":76,"titlePadding":68}}}},
{"data":{"name":"fit"},
"mark":{"type":"point","filled":true,"shape":"circle","size":160,"color":"#ff0000","opacity":1,"strokeWidth":0},
"encoding":{
"x":{"field":"lat","type":"quantitative","axis":{"orient":"bottom","values":[-90,-60,-30,0,30,60,90],"ticks":true,"tickSize":-112,"tickWidth":5,"domain":false,"labels":false,"title":null}},
"y":{"field":"r","type":"quantitative","axis":{"orient":"left","values":[6045,6050,6055,6060,6065],"ticks":true,"tickSize":-112,"tickWidth":5,"domain":false,"labels":false,"title":null}}}},
{"data":{"name":"fit"},
"mark":{"type":"point","opacity":0},
"encoding":{
"x":{"field":"lat","type":"quantitative","axis":{"orient":"bottom","values":[-85,-80,-75,-70,-65,-55,-50,-45,-40,-35,-25,-20,-15,-10,-5,5,10,15,20,25,35,40,45,50,55,65,70,75,80,85],"ticks":true,"tickSize":-57,"tickWidth":5,"domain":false,"labels":false,"title":null}},
"y":{"field":"r","type":"quantitative","axis":{"orient":"left","values":[6046,6047,6048,6049,6051,6052,6053,6054,6056,6057,6058,6059,6061,6062,6063,6064],"ticks":true,"tickSize":-57,"tickWidth":5,"domain":false,"labels":false,"title":null}}}},
{"data":{"name":"fit"},
"mark":{"type":"point","opacity":0},
"encoding":{
"x":{"field":"lat","type":"quantitative","axis":{"orient":"top","values":[-90,-60,-30,0,30,60,90],"ticks":true,"tickSize":-112,"tickWidth":5,"domain":true,"domainWidth":6,"labels":false,"title":null}},
"y":{"field":"r","type":"quantitative","axis":{"orient":"right","values":[6045,6050,6055,6060,6065],"ticks":true,"tickSize":-112,"tickWidth":5,"domain":true,"domainWidth":6,"labels":false,"title":null}}}},
{"data":{"name":"fit"},
"mark":{"type":"point","opacity":0},
"encoding":{
"x":{"field":"lat","type":"quantitative","axis":{"orient":"top","values":[-85,-80,-75,-70,-65,-55,-50,-45,-40,-35,-25,-20,-15,-10,-5,5,10,15,20,25,35,40,45,50,55,65,70,75,80,85],"ticks":true,"tickSize":-57,"tickWidth":5,"domain":false,"labels":false,"title":null}},
"y":{"field":"r","type":"quantitative","axis":{"orient":"right","values":[6046,6047,6048,6049,6051,6052,6053,6054,6056,6057,6058,6059,6061,6062,6063,6064],"ticks":true,"tickSize":-57,"tickWidth":5,"domain":false,"labels":false,"title":null}}}}
],
"resolve":{"axis":{"x":"independent","y":"independent"}}
}
